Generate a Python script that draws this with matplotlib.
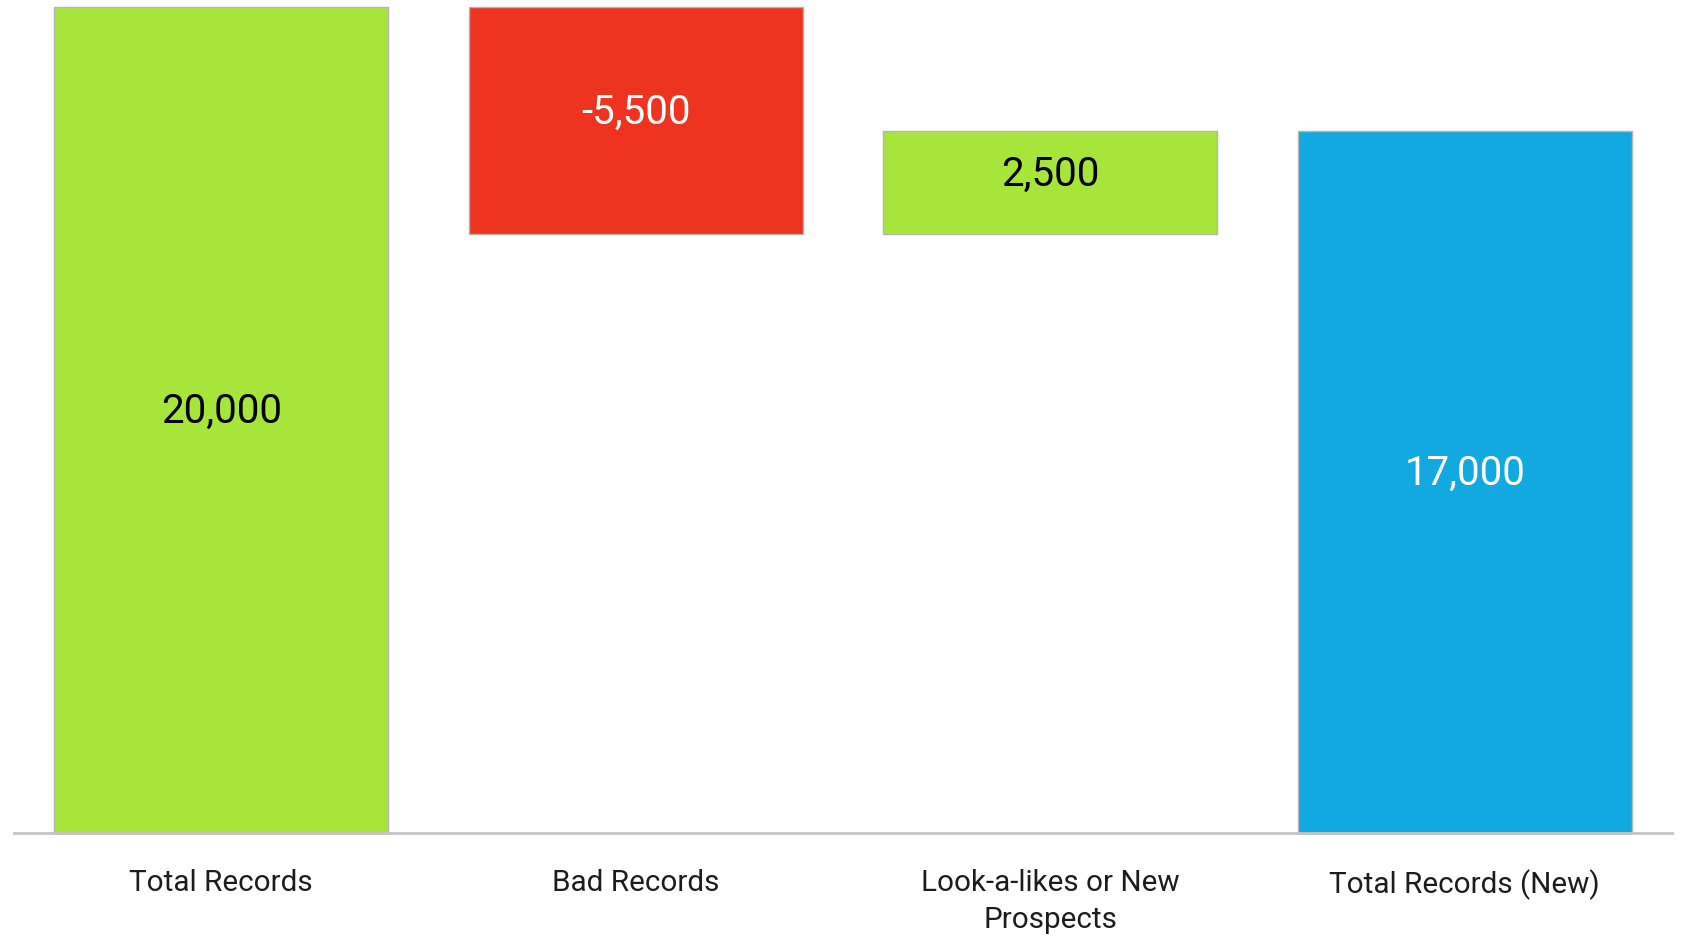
import numpy as np
import matplotlib.pyplot as plt

plt.rcParams['font.family'] = ['Roboto', 'DejaVu Sans']

# Waterfall data
categories = ["Total Records", "Bad Records", "Look-a-likes or New\nProspects", "Total Records (New)"]
changes = [20000, -5500, 2500, 17000]
is_total = [True, False, False, True]
bar_colors = ["#A8E53A", "#EE3321", "#A8E53A", "#12A8E0"]
label_colors = ["black", "white", "black", "white"]

# running totals -> bottoms / heights for each step
bottoms = []
heights = []
running = 0
for val, tot in zip(changes, is_total):
    if tot:
        bottoms.append(0)
        heights.append(val)
        running = val
    else:
        if val >= 0:
            bottoms.append(running)
        else:
            bottoms.append(running + val)
        heights.append(abs(val))
        running += val

fig = plt.figure(figsize=(16.83, 9.36), dpi=100)
ax = fig.add_axes([0.0083, 0.110, 0.9852, 0.883])

x = np.arange(len(categories))
bars = ax.bar(x, heights, bottom=bottoms, width=0.805, color=bar_colors,
              edgecolor="#b4b4b4", linewidth=1.0, clip_on=False, zorder=2)

for xi, b, h, val, lc in zip(x, bottoms, heights, changes, label_colors):
    ax.annotate(f"{val:,}", (xi, b + h / 2), xytext=(0, 6), textcoords="offset points",
                ha="center", va="center", fontsize=29, color=lc)

ax.set_xlim(-0.5, 3.5)
ax.set_ylim(0, 20000)
ax.set_yticks([])
ax.set_xticks(x)
ax.set_xticklabels(categories, fontsize=21.3, color="#1c1c1c", linespacing=1.42)
ax.tick_params(axis="x", length=0, pad=26)
for side in ["top", "right", "left"]:
    ax.spines[side].set_visible(False)
ax.spines["bottom"].set_color("#c4c4c4")
ax.spines["bottom"].set_linewidth(2)

fig.savefig("out.png", dpi=100)
